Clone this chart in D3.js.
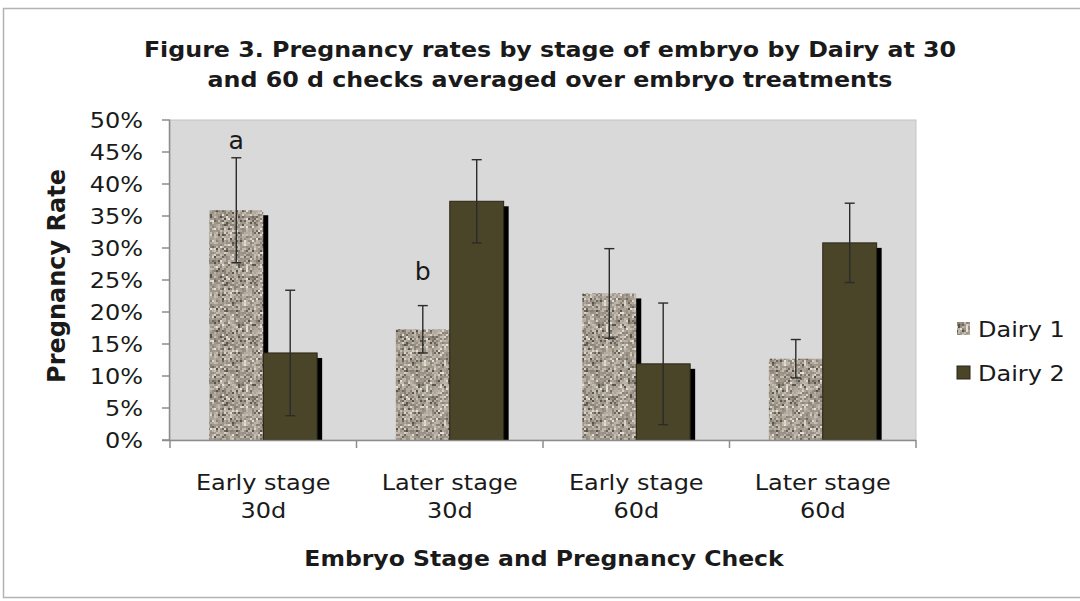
<!DOCTYPE html>
<html>
<head>
<meta charset="utf-8">
<script src="https://cdn.jsdelivr.net/npm/d3@7"></script>
<style>
  body { margin: 0; background: #fff; }
  text { font-family: "DejaVu Sans", Verdana, sans-serif; fill: #1a1a1a; }
</style>
</head>
<body>
<svg id="chart" width="1080" height="601"></svg>
<script>
// data
const categories = ["Early stage|30d", "Later stage|30d", "Early stage|60d", "Later stage|60d"]
const seriesNames = ["Dairy 1", "Dairy 2"]
const dairy1 = [35.9, 17.3, 22.9, 12.7]
const dairy2 = [13.6, 37.3, 11.9, 30.8]
const dairy1Err = [8.2, 3.7, 7.0, 3.0]
const dairy2Err = [9.8, 6.5, 9.5, 6.2]
const yTicks = [0, 5, 10, 15, 20, 25, 30, 35, 40, 45, 50]
const letters = [{cat: 0, series: 0, text: "a", y: 45.5}, {cat: 1, series: 0, text: "b", y: 25}]

const W = 1080, H = 601
const plot = {left: 170, right: 916, top: 120, bottom: 440}
const sx = 1.17 // source image is stretched a bit horizontally

const svg = d3.select("#chart")

// helper so text gets the same horizontal stretch as the picture
function label(g, x, y, txt, opts) {
  opts = opts || {}
  return g.append("text")
    .attr("transform", `translate(${x},${y}) scale(${opts.sx || sx},1)`)
    .attr("text-anchor", opts.anchor || "middle")
    .style("font-size", (opts.size || 20.5) + "px")
    .style("font-weight", opts.bold ? "bold" : "normal")
    .text(txt)
}

// outer frame
svg.append("rect")
  .attr("x", 3.5).attr("y", 8.5).attr("width", W + 10).attr("height", H - 12)
  .attr("fill", "#fff").attr("stroke", "#b3b3b3").attr("stroke-width", 1.5)

// granite texture for Dairy 1
const defs = svg.append("defs")
const blur = defs.append("filter").attr("id", "soft")
blur.append("feGaussianBlur").attr("stdDeviation", 0.45)
const pat = defs.append("pattern")
  .attr("id", "granite").attr("patternUnits", "userSpaceOnUse")
  .attr("width", 60).attr("height", 60)
pat.append("rect").attr("width", 60).attr("height", 60).attr("fill", "#a9a094")
const tile = pat.append("g").attr("filter", "url(#soft)")
const tones = ["#a39a8e", "#b4ab9f", "#978f84", "#bdb5aa", "#8a8277", "#c6beb2", "#aea598", "#9e968a",
  "#6e675e", "#d8d2c8", "#59534c", "#e4dfd6"]
let seed = 20231
const rnd = () => { seed = (seed * 1103515245 + 12345) % 2147483648; return seed / 2147483648 }
for (let i = 0; i < 30; i++) {
  for (let j = 0; j < 30; j++) {
    const r = rnd()
    const t = r < 0.8 ? tones[Math.floor(rnd() * 8)] : tones[8 + Math.floor(rnd() * 4)]
    tile.append("rect").attr("x", i * 2).attr("y", j * 2)
      .attr("width", 2).attr("height", 2).attr("fill", t)
  }
}
defs.append("clipPath").attr("id", "plotclip")
  .append("rect").attr("x", plot.left).attr("y", 0)
  .attr("width", plot.right - plot.left + 20).attr("height", plot.bottom)

// scales
const x = d3.scaleBand().domain(d3.range(categories.length))
  .range([plot.left, plot.right]).paddingInner(0).paddingOuter(0)
const x1 = d3.scaleBand().domain(d3.range(seriesNames.length))
  .range([0, x.bandwidth()]).paddingInner(0).paddingOuter(0.73)
const y = d3.scaleLinear().domain([0, 50]).range([plot.bottom, plot.top])

// plot area
svg.append("rect")
  .attr("x", plot.left).attr("y", plot.top)
  .attr("width", plot.right - plot.left).attr("height", plot.bottom - plot.top)
  .attr("fill", "#d9d9d9").attr("stroke", "#c4c4c4").attr("stroke-width", 1)

const values = [dairy1, dairy2]
const errors = [dairy1Err, dairy2Err]
const fills = ["url(#granite)", "#4a4429"]

const bars = svg.append("g").attr("clip-path", "url(#plotclip)")
values.forEach((vals, s) => {
  // drop shadow
  bars.append("g").selectAll("rect")
    .data(vals)
    .join("rect")
      .attr("x", (d, i) => x(i) + x1(s) + 5)
      .attr("y", (d) => y(d) + 5)
      .attr("width", x1.bandwidth())
      .attr("height", (d) => y(0) - y(d))
      .attr("fill", "#000")
  bars.append("g").selectAll("rect")
    .data(vals)
    .join("rect")
      .attr("x", (d, i) => x(i) + x1(s))
      .attr("y", (d) => y(d))
      .attr("width", x1.bandwidth())
      .attr("height", (d) => y(0) - y(d))
      .attr("fill", fills[s])
      .attr("stroke", s === 1 ? "#2a2616" : "none")
      .attr("stroke-width", 1)
})

// error bars
values.forEach((vals, s) => {
  const g = svg.append("g").attr("stroke", "#2b2b2b").attr("stroke-width", 1.4)
  vals.forEach((v, i) => {
    const cx = x(i) + x1(s) + x1.bandwidth() / 2
    const lo = y(v - errors[s][i]), hi = y(v + errors[s][i])
    g.append("line").attr("x1", cx).attr("x2", cx).attr("y1", lo).attr("y2", hi)
    g.append("line").attr("x1", cx - 5).attr("x2", cx + 5).attr("y1", lo).attr("y2", lo)
    g.append("line").attr("x1", cx - 5).attr("x2", cx + 5).attr("y1", hi).attr("y2", hi)
  })
})

// significance letters
letters.forEach((d) => {
  label(svg, x(d.cat) + x1(d.series) + x1.bandwidth() / 2, y(d.y), d.text, {size: 24, sx: 1.05})
})

// y axis
const yAxis = svg.append("g")
yAxis.append("line").attr("x1", plot.left - 0.5).attr("x2", plot.left - 0.5)
  .attr("y1", plot.top).attr("y2", plot.bottom).attr("stroke", "#8c8c8c").attr("stroke-width", 1.5)
yTicks.forEach((t) => {
  yAxis.append("line").attr("x1", plot.left - 8).attr("x2", plot.left)
    .attr("y1", y(t)).attr("y2", y(t)).attr("stroke", "#8c8c8c").attr("stroke-width", 1.5)
  label(yAxis, 143, y(t) + 7.5, t + "%", {anchor: "end"})
})

// x axis
const xAxis = svg.append("g")
xAxis.append("line").attr("x1", plot.left - 8).attr("x2", plot.right)
  .attr("y1", plot.bottom + 0.5).attr("y2", plot.bottom + 0.5).attr("stroke", "#8c8c8c").attr("stroke-width", 1.5)
d3.range(categories.length + 1).forEach((i) => {
  const xx = i < categories.length ? x(i) : plot.right
  xAxis.append("line").attr("x1", xx).attr("x2", xx)
    .attr("y1", plot.bottom).attr("y2", plot.bottom + 8).attr("stroke", "#8c8c8c").attr("stroke-width", 1.5)
})
categories.forEach((c, i) => {
  const cx = x(i) + x.bandwidth() / 2
  c.split("|").forEach((line, li) => {
    label(xAxis, cx, 490 + li * 28, line)
  })
})

// titles
label(svg, 550, 57, "Figure 3. Pregnancy rates by stage of embryo by Dairy at 30", {size: 22, bold: true, sx: 1.08})
label(svg, 550, 87, "and 60 d checks averaged over embryo treatments", {size: 22, bold: true, sx: 1.08})
label(svg, 544, 566, "Embryo Stage and Pregnancy Check", {size: 22, bold: true, sx: 1.07})
svg.append("text")
  .attr("transform", "translate(65,276) rotate(-90)")
  .attr("text-anchor", "middle")
  .style("font-size", "24px").style("font-weight", "bold")
  .text("Pregnancy Rate")

// legend
const legend = svg.append("g")
seriesNames.forEach((n, s) => {
  const ly = 329 + s * 44
  legend.append("rect").attr("x", 957).attr("y", ly - 7).attr("width", 13).attr("height", 13)
    .attr("fill", fills[s]).attr("stroke", s === 1 ? "#2a2616" : "none")
  label(legend, 978, ly + 8, n, {anchor: "start"})
})
</script>
</body>
</html>
